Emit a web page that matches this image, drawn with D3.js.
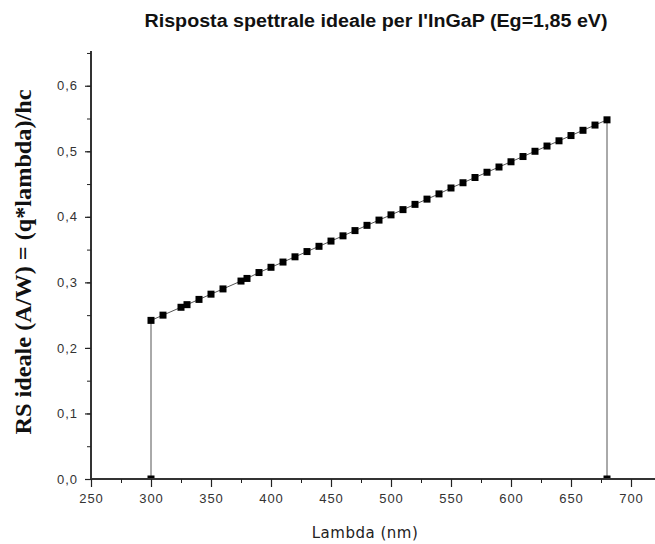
<!DOCTYPE html>
<html>
<head>
<meta charset="utf-8">
<script src="https://cdn.jsdelivr.net/npm/d3@7"></script>
<style>
  html, body { margin: 0; padding: 0; background: #fff; }
  svg { display: block; }
</style>
</head>
<body>
<svg id="chart" width="655" height="544"></svg>
<script>
// Wavelengths (nm) and ideal spectral response (A/W) of InGaP
const lambdaNm = [300, 310, 325, 330, 340, 350, 360, 375, 380, 390, 400, 410, 420, 430,
  440, 450, 460, 470, 480, 490, 500, 510, 520, 530, 540, 550, 560, 570, 580, 590,
  600, 610, 620, 630, 640, 650, 660, 670, 680];
const rsIdeal = [0.242, 0.250, 0.262, 0.266, 0.274, 0.282, 0.290, 0.302, 0.306, 0.315,
  0.323, 0.331, 0.339, 0.347, 0.355, 0.363, 0.371, 0.379, 0.387, 0.395, 0.403, 0.411,
  0.419, 0.427, 0.435, 0.444, 0.452, 0.460, 0.468, 0.476, 0.484, 0.492, 0.500, 0.508,
  0.516, 0.524, 0.532, 0.540, 0.548];
// Band edges where the response drops to zero
const edgeLambda = [300, 680];
const edgeValue = [0, 0];

const xTicks = [250, 300, 350, 400, 450, 500, 550, 600, 650, 700];
const yTicks = [0, 0.1, 0.2, 0.3, 0.4, 0.5, 0.6];

const titleText = "Risposta spettrale ideale per l'InGaP (Eg=1,85 eV)";
const xTitle = "Lambda (nm)";
const yTitle = "RS ideale (A/W) = (q*lambda)/hc";

const svg = d3.select("#chart");
const pLeft = 91, pRight = 655, pTop = 51, pBottom = 479;

const x = d3.scaleLinear().domain([250, 720]).range([pLeft, pRight]);
const y = d3.scaleLinear().domain([0, 0.653]).range([pBottom, pTop]);

// Full trace: rise at the low edge, the curve, drop at the band gap
const mainPts = lambdaNm.map((l, i) => ({ l, v: rsIdeal[i] }));
const trace = [{ l: edgeLambda[0], v: edgeValue[0] }, ...mainPts,
  { l: edgeLambda[1], v: edgeValue[1] }];

svg.append("defs").append("clipPath").attr("id", "plotClip")
  .append("rect").attr("x", pLeft).attr("y", 0)
  .attr("width", pRight - pLeft + 10).attr("height", pBottom);

const plot = svg.append("g").attr("clip-path", "url(#plotClip)");

plot.append("path")
  .datum(trace)
  .attr("fill", "none")
  .attr("stroke", "#555")
  .attr("stroke-width", 1)
  .attr("d", d3.line().x(d => x(d.l)).y(d => y(d.v)));

const ms = 7;
plot.selectAll("rect.pt")
  .data(trace)
  .join("rect")
  .attr("class", "pt")
  .attr("x", d => x(d.l) - ms / 2)
  .attr("y", d => y(d.v) - ms / 2)
  .attr("width", ms)
  .attr("height", ms)
  .attr("fill", "#000");

// Axes
const fmt = d3.format(".1f");
const comma = v => fmt(v).replace(".", ",");
const tickFont = "Liberation Sans, Arial, sans-serif";

const xAxis = svg.append("g").attr("transform", `translate(0,${pBottom})`);
xAxis.call(d3.axisBottom(x).tickValues(d3.range(250, 721, 25)).tickSize(4).tickFormat(""));
xAxis.selectAll(".tick line").attr("stroke", "#222").attr("stroke-width", 1);
const xMajor = svg.append("g").attr("transform", `translate(0,${pBottom})`);
xMajor.call(d3.axisBottom(x).tickValues(xTicks).tickSize(8).tickPadding(7).tickFormat(d3.format("d")));
xMajor.select(".domain").remove();
xMajor.selectAll(".tick line").attr("stroke", "#222").attr("stroke-width", 1.2);
xMajor.selectAll(".tick text")
  .attr("font-family", tickFont)
  .attr("font-size", 13).attr("letter-spacing", 1).attr("fill", "#333");
xAxis.select(".domain").attr("stroke", "#333").attr("stroke-width", 2)
  .attr("d", `M${pLeft},0H${pRight}`);

const yAxis = svg.append("g").attr("transform", `translate(${pLeft},0)`);
yAxis.call(d3.axisLeft(y).tickValues(d3.range(0, 0.651, 0.05)).tickSize(4).tickFormat(""));
yAxis.selectAll(".tick line").attr("stroke", "#222").attr("stroke-width", 1);
const yMajor = svg.append("g").attr("transform", `translate(${pLeft},0)`);
yMajor.call(d3.axisLeft(y).tickValues(yTicks).tickSize(6).tickPadding(7).tickFormat(comma));
yMajor.select(".domain").remove();
yMajor.selectAll(".tick line").attr("stroke", "#222").attr("stroke-width", 1.2);
yMajor.selectAll(".tick text")
  .attr("font-family", tickFont)
  .attr("font-size", 13).attr("letter-spacing", 1).attr("fill", "#333");
yAxis.select(".domain").attr("stroke", "#333").attr("stroke-width", 2)
  .attr("d", `M0,${pTop}V${pBottom}`);

// Titles
svg.append("text")
  .attr("x", 376).attr("y", 27)
  .attr("text-anchor", "middle")
  .attr("font-family", "Liberation Sans, Arial, sans-serif")
  .attr("font-weight", "bold").attr("font-size", 18).attr("fill", "#111")
  .attr("textLength", 463).attr("lengthAdjust", "spacingAndGlyphs")
  .text(titleText);

svg.append("text")
  .attr("x", 365).attr("y", 538)
  .attr("text-anchor", "middle")
  .attr("font-family", "DejaVu Sans, Verdana, sans-serif")
  .attr("font-size", 15).attr("letter-spacing", 0.5).attr("fill", "#222")
  .text(xTitle);

svg.append("text")
  .attr("transform", `translate(31,262) rotate(-90)`)
  .attr("text-anchor", "middle")
  .attr("font-family", "Liberation Serif, Times New Roman, serif")
  .attr("font-weight", "bold").attr("font-size", 23.5).attr("fill", "#111")
  .attr("textLength", 345).attr("lengthAdjust", "spacingAndGlyphs")
  .text(yTitle);
</script>
</body>
</html>
